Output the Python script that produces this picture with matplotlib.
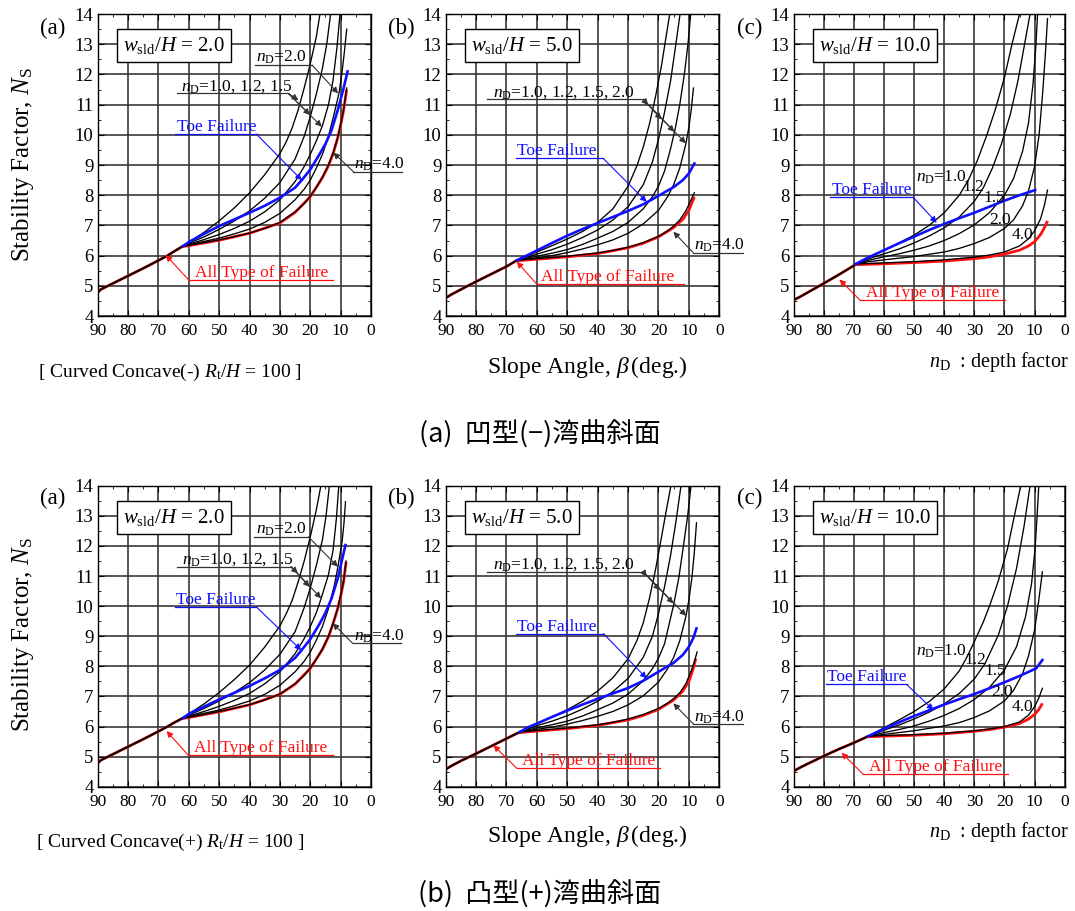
import matplotlib
matplotlib.use('Agg')
import matplotlib.pyplot as plt
from matplotlib.ticker import MultipleLocator

plt.rcParams['font.family'] = ['Liberation Serif', 'DejaVu Serif']
plt.rcParams['mathtext.fontset'] = 'custom'
plt.rcParams['mathtext.rm'] = 'Liberation Serif'
plt.rcParams['mathtext.it'] = 'Liberation Serif:italic'
plt.rcParams['mathtext.bf'] = 'Liberation Serif:bold'

# ---------------- data ----------------
W_RATIOS = ['2.0', '5.0', '10.0']
PANEL_TAGS = ['(a)', '(b)', '(c)']
ND_KEYS = ['1.0', '1.2', '1.5', '2.0', '4.0']
X_TICKS = [90, 80, 70, 60, 50, 40, 30, 20, 10, 0]
Y_TICKS = [4, 5, 6, 7, 8, 9, 10, 11, 12, 13, 14]

# Concave(-), w/H = 2.0
CC_A = {
    'common': [(90, 4.78), (89, 4.88), (87, 4.98), (85, 5.08), (80, 5.33), (75, 5.58), (70, 5.84), (67, 6.0), (65, 6.13), (62, 6.31)],
    '1.0': [(62, 6.31), (60, 6.45), (55, 6.77), (50, 7.15), (45, 7.58), (40, 8.08), (35, 8.68), (30, 9.38), (28, 9.75), (26, 10.22), (24, 10.82), (22, 11.55), (20, 12.35), (18, 13.25), (16.8, 14.0)],
    '1.2': [(62, 6.31), (60, 6.41), (55, 6.62), (50, 6.87), (45, 7.15), (40, 7.48), (35, 7.9), (30, 8.42), (25, 9.2), (22, 9.95), (20, 10.6), (18, 11.35), (16, 12.2), (14.5, 13.05), (13.3, 14.0)],
    '1.5': [(62, 6.31), (60, 6.38), (55, 6.53), (50, 6.7), (45, 6.9), (40, 7.14), (35, 7.45), (30, 7.85), (25, 8.45), (22, 8.95), (20, 9.35), (18, 9.8), (16, 10.3), (14, 11.0), (12.5, 11.8), (11.2, 12.9), (10.2, 14.0)],
    '2.0': [(62, 6.31), (60, 6.36), (55, 6.47), (50, 6.58), (45, 6.72), (40, 6.88), (35, 7.1), (30, 7.4), (25, 7.85), (22, 8.2), (20, 8.5), (18, 8.9), (16, 9.35), (14, 9.95), (12, 10.75), (10.5, 11.4), (9.5, 12.1), (8.7, 12.8), (8.0, 13.5)],
    '4.0': [(62, 6.31), (60, 6.34), (55, 6.43), (50, 6.52), (45, 6.63), (40, 6.75), (35, 6.9), (30, 7.1), (25, 7.45), (22, 7.72), (20, 7.97), (18, 8.25), (16, 8.6), (14, 9.0), (12.4, 9.42), (11, 9.9), (10, 10.35), (9, 10.85), (8.0, 11.55)],
    'toe': [(62, 6.31), (60, 6.45), (55, 6.72), (50, 6.98), (45, 7.2), (40, 7.42), (35, 7.65), (30, 7.92), (25, 8.25), (22.8, 8.5), (20, 8.85), (17, 9.35), (15, 9.7), (13, 10.15), (11, 10.8), (9, 11.55), (7.7, 12.1)],
    'all': [(62, 6.3), (60, 6.33), (50, 6.51), (40, 6.74), (30, 7.08), (25, 7.43), (20, 7.95), (16, 8.58), (14, 8.98), (12.4, 9.4), (11, 9.88), (10, 10.32), (9, 10.82), (8.0, 11.5)],
}
# Concave(-), w/H = 5.0
CC_B = {
    'common': [(90, 4.6), (88, 4.72), (85, 4.88), (80, 5.14), (75, 5.39), (70, 5.64), (66.5, 5.85)],
    '1.0': [(66.5, 5.85), (63, 6.0), (60, 6.12), (55, 6.33), (50, 6.55), (45, 6.8), (40, 7.1), (35, 7.55), (30, 8.3), (27, 9.0), (25, 9.6), (23, 10.35), (21, 11.25), (19, 12.3), (17.5, 13.25), (16.3, 14.0)],
    '1.2': [(66.5, 5.85), (60, 6.05), (55, 6.2), (50, 6.38), (45, 6.6), (40, 6.85), (35, 7.18), (30, 7.62), (25, 8.35), (22, 9.1), (20, 9.85), (18, 10.75), (16, 11.8), (14.5, 12.85), (12.9, 14.0)],
    '1.5': [(66.5, 5.85), (60, 5.98), (55, 6.08), (50, 6.2), (45, 6.37), (40, 6.58), (35, 6.8), (30, 7.1), (25, 7.55), (22, 7.95), (20, 8.3), (18, 8.8), (16, 9.55), (14.5, 10.2), (13, 11.0), (11.5, 12.0), (10.3, 13.0), (9.4, 14.0)],
    '2.0': [(66.5, 5.85), (60, 5.93), (55, 6.0), (50, 6.1), (45, 6.22), (40, 6.36), (35, 6.52), (30, 6.74), (25, 7.05), (20, 7.5), (17, 7.95), (15, 8.35), (13, 8.9), (11, 9.7), (10, 10.25), (9.2, 10.85), (8.5, 11.55)],
    '4.0': [(66.5, 5.85), (60, 5.9), (50, 5.98), (40, 6.09), (35, 6.17), (30, 6.28), (25, 6.43), (20, 6.64), (17, 6.82), (15, 6.98), (13, 7.18), (11, 7.48), (9.5, 7.8), (8.2, 8.08)],
    'toe': [(66.5, 5.85), (63, 6.02), (60, 6.17), (55, 6.42), (50, 6.66), (45, 6.88), (40, 7.08), (35, 7.28), (30, 7.48), (25, 7.7), (20, 7.98), (15, 8.27), (12, 8.5), (10, 8.72), (8.2, 9.05)],
    'all': [(66.5, 5.83), (60, 5.88), (50, 5.96), (40, 6.07), (30, 6.26), (25, 6.41), (20, 6.62), (15, 6.93), (12, 7.2), (10, 7.5), (8.2, 7.95)],
}
# Concave(-), w/H = 10.0
CC_C = {
    'common': [(90, 4.53), (88, 4.63), (85, 4.8), (80, 5.08), (75, 5.37), (70, 5.67), (69.5, 5.72)],
    '1.0': [(69.5, 5.72), (65, 5.95), (60, 6.18), (55, 6.42), (50, 6.68), (45, 7.0), (40, 7.42), (35, 8.0), (32, 8.5), (29, 9.15), (26, 9.95), (23, 10.85), (20, 11.9), (17.5, 13.0), (15.0, 14.0)],
    '1.2': [(69.5, 5.72), (65, 5.9), (60, 6.06), (55, 6.22), (50, 6.42), (45, 6.65), (40, 6.92), (35, 7.28), (30, 7.8), (27, 8.25), (24, 8.9), (21, 9.7), (18, 10.7), (15.5, 11.8), (13.5, 12.9), (11.5, 14.0)],
    '1.5': [(69.5, 5.72), (65, 5.85), (60, 5.96), (55, 6.06), (50, 6.18), (45, 6.32), (40, 6.5), (35, 6.73), (30, 7.02), (25, 7.42), (20, 8.0), (17, 8.55), (14, 9.45), (12, 10.4), (10.5, 11.7), (9.6, 12.9), (9.0, 14.0)],
    '2.0': [(69.5, 5.72), (65, 5.8), (60, 5.86), (50, 5.97), (40, 6.12), (35, 6.24), (30, 6.4), (25, 6.6), (20, 6.9), (17, 7.18), (14, 7.65), (12, 8.15), (10, 8.95), (8.5, 10.0), (7.3, 11.4), (6.4, 12.7), (5.7, 13.85)],
    '4.0': [(69.5, 5.72), (60, 5.76), (50, 5.8), (40, 5.86), (30, 5.95), (25, 6.02), (20, 6.12), (15, 6.32), (12, 6.56), (10, 6.82), (8, 7.22), (6.7, 7.68), (5.7, 8.17)],
    'toe': [(69.5, 5.72), (65, 5.95), (60, 6.18), (55, 6.41), (50, 6.63), (45, 6.85), (40, 7.05), (35, 7.24), (30, 7.42), (25, 7.62), (20, 7.82), (15, 8.0), (9.8, 8.17)],
    'all': [(69.5, 5.7), (60, 5.73), (50, 5.77), (40, 5.82), (30, 5.9), (25, 5.96), (20, 6.05), (15, 6.18), (12, 6.32), (10, 6.46), (8, 6.7), (6.6, 6.95), (5.7, 7.15)],
}
# Convex(+), w/H = 2.0
CV_A = {
    'common': [(90, 4.78), (89, 4.88), (87, 4.98), (85, 5.08), (80, 5.33), (75, 5.58), (70, 5.84), (67, 6.0), (65, 6.12), (62, 6.28)],
    '1.0': [(62, 6.28), (60, 6.42), (55, 6.75), (50, 7.13), (45, 7.56), (40, 8.04), (35, 8.64), (30, 9.34), (28, 9.73), (26, 10.18), (24, 10.8), (22, 11.5), (20, 12.3), (18, 13.2), (16.5, 14.0)],
    '1.2': [(62, 6.28), (60, 6.38), (55, 6.6), (50, 6.85), (45, 7.13), (40, 7.46), (35, 7.88), (30, 8.4), (25, 9.15), (22, 9.95), (20, 10.6), (18, 11.35), (16, 12.2), (14.8, 13.0), (13.7, 14.0)],
    '1.5': [(62, 6.28), (60, 6.35), (55, 6.5), (50, 6.67), (45, 6.87), (40, 7.1), (35, 7.42), (30, 7.82), (25, 8.42), (22, 8.92), (20, 9.32), (18, 9.78), (16.4, 10.26), (14, 11.05), (12.5, 11.85), (11.4, 12.9), (10.6, 14.0)],
    '2.0': [(62, 6.28), (60, 6.33), (55, 6.44), (50, 6.55), (45, 6.69), (40, 6.85), (35, 7.07), (30, 7.37), (25, 7.82), (22, 8.17), (20, 8.47), (18, 8.87), (16, 9.32), (14, 9.92), (12, 10.72), (10.9, 11.3), (9.5, 12.15), (8.9, 12.75), (8.4, 13.47)],
    '4.0': [(62, 6.28), (60, 6.31), (55, 6.4), (50, 6.5), (45, 6.61), (40, 6.73), (35, 6.88), (30, 7.08), (25, 7.42), (22, 7.7), (20, 7.95), (18, 8.23), (16, 8.58), (14, 9.0), (12.6, 9.4), (11, 9.92), (10, 10.35), (9, 10.85), (8.2, 11.5)],
    'toe': [(62, 6.28), (60, 6.42), (55, 6.66), (50, 6.9), (45, 7.12), (40, 7.35), (35, 7.6), (30, 7.88), (25, 8.28), (23, 8.52), (20, 8.9), (17, 9.4), (15, 9.78), (13, 10.25), (11, 10.9), (9.5, 11.55), (8.4, 12.03)],
    'all': [(62, 6.27), (60, 6.3), (50, 6.49), (40, 6.72), (30, 7.07), (25, 7.41), (20, 7.93), (16, 8.56), (14, 8.98), (12.6, 9.38), (11, 9.9), (10, 10.32), (9, 10.82), (8.2, 11.47)],
}
# Convex(+), w/H = 5.0
CV_B = {
    'common': [(90, 4.58), (88, 4.7), (85, 4.86), (80, 5.1), (75, 5.35), (70, 5.6), (65.6, 5.82)],
    '1.0': [(65.6, 5.82), (63, 5.96), (60, 6.1), (55, 6.32), (50, 6.56), (45, 6.84), (40, 7.18), (35, 7.62), (30, 8.25), (27, 8.88), (25, 9.45), (23, 10.25), (21, 11.2), (19, 12.3), (17.3, 13.25), (15.9, 14.0)],
    '1.2': [(65.6, 5.82), (60, 6.03), (55, 6.18), (50, 6.36), (45, 6.58), (40, 6.84), (35, 7.16), (30, 7.6), (25, 8.3), (22, 9.0), (20, 9.75), (18, 10.65), (16, 11.7), (14.2, 12.85), (12.6, 14.0)],
    '1.5': [(65.6, 5.82), (60, 5.96), (55, 6.06), (50, 6.18), (45, 6.35), (40, 6.56), (35, 6.78), (30, 7.08), (25, 7.52), (22, 7.92), (20, 8.27), (18, 8.75), (16.5, 9.4), (15, 10.05), (13.3, 10.95), (11.8, 12.0), (10.4, 13.0), (9.3, 14.0)],
    '2.0': [(65.6, 5.82), (60, 5.91), (55, 5.98), (50, 6.08), (45, 6.2), (40, 6.34), (35, 6.5), (30, 6.72), (25, 7.02), (20, 7.48), (17, 7.92), (15, 8.3), (13, 8.85), (11, 9.65), (10, 10.2), (9, 10.95), (8.2, 11.8), (7.5, 12.77)],
    '4.0': [(65.6, 5.82), (60, 5.87), (50, 5.95), (40, 6.06), (35, 6.14), (30, 6.25), (25, 6.4), (20, 6.6), (17, 6.78), (15, 6.93), (13, 7.12), (11, 7.42), (9.5, 7.78), (8.3, 8.12), (7.3, 8.48)],
    'toe': [(65.6, 5.82), (63, 5.97), (60, 6.1), (55, 6.32), (50, 6.53), (45, 6.73), (40, 6.92), (35, 7.1), (30, 7.28), (25, 7.52), (20, 7.82), (15, 8.12), (12, 8.38), (10, 8.65), (8.5, 8.95), (7.5, 9.26)],
    'all': [(65.6, 5.8), (60, 5.85), (50, 5.93), (40, 6.04), (30, 6.22), (25, 6.37), (20, 6.57), (15, 6.88), (12, 7.18), (10, 7.5), (8.8, 7.85), (7.7, 8.26)],
}
# Convex(+), w/H = 10.0
CV_C = {
    'common': [(90, 4.52), (88, 4.63), (85, 4.78), (80, 5.02), (75, 5.25), (70, 5.46), (65.2, 5.68)],
    '1.0': [(65.2, 5.68), (60, 5.96), (55, 6.22), (50, 6.5), (45, 6.83), (40, 7.25), (35, 7.85), (32.5, 8.3), (30, 8.82), (27, 9.48), (24.8, 10.05), (22, 10.85), (19, 11.9), (16.7, 13.0), (14.6, 14.0)],
    '1.2': [(65.2, 5.68), (60, 5.88), (55, 6.05), (50, 6.25), (45, 6.48), (40, 6.75), (35, 7.1), (30, 7.58), (26.4, 8.1), (22, 9.05), (19, 10.0), (16, 11.25), (13.5, 12.65), (11.5, 14.0)],
    '1.5': [(65.2, 5.68), (60, 5.8), (55, 5.9), (50, 6.02), (45, 6.18), (40, 6.37), (35, 6.6), (30, 6.9), (25, 7.3), (20, 7.88), (16, 8.65), (13, 9.65), (11, 10.75), (9.8, 11.95), (9.1, 13.1), (8.6, 14.0)],
    '2.0': [(65.2, 5.68), (60, 5.74), (50, 5.86), (40, 6.02), (35, 6.13), (30, 6.3), (25, 6.52), (20, 6.85), (17, 7.2), (14, 7.75), (12, 8.35), (10, 9.2), (8.6, 10.2), (7.4, 11.14)],
    '4.0': [(65.2, 5.68), (60, 5.7), (50, 5.73), (40, 5.78), (30, 5.86), (25, 5.92), (20, 6.0), (15, 6.15), (12, 6.38), (10, 6.66), (8.6, 6.95), (7.4, 7.27)],
    'toe': [(65.2, 5.68), (60, 5.92), (55, 6.14), (50, 6.35), (45, 6.54), (40, 6.73), (35, 6.91), (30, 7.08), (25, 7.27), (20, 7.47), (15, 7.68), (9.5, 7.93), (7.4, 8.21)],
    'all': [(65.2, 5.66), (60, 5.68), (50, 5.71), (40, 5.76), (30, 5.84), (25, 5.9), (20, 5.98), (15, 6.1), (12, 6.25), (10, 6.4), (8.5, 6.58), (7.4, 6.77)],
}

# annotations: (text, color, underline_x0, underline_x1, y, arrow_start_x, text_x, tips)
ND = r'$n_{\rm D}$'
ANN_CC_A = [
    (ND + '=2.0', 'k', 38.2, 19.4, 12.31, 19.4, 37.8, [(10.8, 11.37)]),
    (ND + '=1.0, 1.2, 1.5', 'k', 64.0, 27.2, 11.37, 27.2, 62.5, [(23.9, 11.15), (20.1, 10.66), (16.2, 10.27)]),
    (ND + '=4.0', 'k', 5.8, -10.2, 8.78, 5.8, 5.5, [(12.4, 9.41)]),
    ('Toe Failure', 'b', 64.5, 37.7, 10.02, 37.7, 64.0, [(22.8, 8.5)]),
    ('All Type of Failure', 'r', 60.0, 12.5, 5.19, 60.0, 58.0, [(67.6, 6.02)]),
]
ANN_CC_B = [
    (ND + '=1.0, 1.2, 1.5, 2.0', 'k', 76.3, 25.0, 11.17, 25.0, 74.5, [(23.4, 10.99), (19.0, 10.51), (14.8, 10.1), (11.0, 9.72)]),
    ('Toe Failure', 'b', 66.9, 38.2, 9.22, 38.2, 66.4, [(23.9, 7.78)]),
    ('All Type of Failure', 'r', 60.1, 11.6, 5.06, 60.1, 58.5, [(66.6, 5.8)]),
    (ND + '=4.0', 'k', 8.6, -7.9, 6.1, 8.6, 8.3, [(15.1, 6.79)]),
]
ANN_CC_C = [
    ('Toe Failure', 'b', 77.9, 50.3, 7.93, 50.3, 77.4, [(42.5, 7.09)]),
    ('All Type of Failure', 'r', 68.0, 19.8, 4.53, 68.0, 66.0, [(74.8, 5.21)]),
]
ANN_CV_A = [
    (ND + '=2.0', 'k', 38.5, 20.6, 12.3, 20.6, 38.0, [(10.9, 11.31)]),
    (ND + '=1.0, 1.2, 1.5', 'k', 63.8, 26.3, 11.31, 26.3, 62.3, [(24.1, 11.09), (20.2, 10.64), (16.4, 10.26)]),
    ('Toe Failure', 'b', 64.6, 37.8, 9.98, 37.8, 64.1, [(23.0, 8.54)]),
    ('All Type of Failure', 'r', 60.2, 12.6, 5.05, 60.2, 58.2, [(67.3, 5.85)]),
    (ND + '=4.0', 'k', 6.0, -10.0, 8.76, 6.0, 5.7, [(12.6, 9.43)]),
]
ANN_CV_B = [
    (ND + '=1.0, 1.2, 1.5, 2.0', 'k', 76.3, 25.0, 11.14, 25.0, 74.5, [(23.9, 10.98), (19.5, 10.53), (15.1, 10.09), (10.9, 9.68)]),
    ('Toe Failure', 'b', 66.9, 38.1, 9.09, 38.1, 66.4, [(23.9, 7.6)]),
    ('All Type of Failure', 'r', 66.6, 19.5, 4.61, 66.6, 64.8, [(74.3, 5.38)]),
    (ND + '=4.0', 'k', 8.5, -7.9, 6.08, 8.5, 8.2, [(15.1, 6.77)]),
]
ANN_CV_C = [
    ('Toe Failure', 'b', 79.3, 52.5, 7.4, 52.5, 78.8, [(43.6, 6.55)]),
    ('All Type of Failure', 'r', 66.9, 18.7, 4.41, 66.9, 64.9, [(74.1, 5.13)]),
]
# direct curve labels in (c) panels: (text, x, y)
LBL_CC_C = [(ND + '=1.0', 40.8, 8.61), ('1.2', 30.4, 8.28), ('1.5', 23.5, 7.9), ('2.0', 21.4, 7.18), ('4.0', 14.1, 6.68)]
LBL_CV_C = [(ND + '=1.0', 40.8, 8.49), ('1.2', 29.8, 8.21), ('1.5', 23.1, 7.85), ('2.0', 20.9, 7.16), ('4.0', 13.9, 6.64)]

ROWS = [
    ([CC_A, CC_B, CC_C], [ANN_CC_A, ANN_CC_B, ANN_CC_C], LBL_CC_C),
    ([CV_A, CV_B, CV_C], [ANN_CV_A, ANN_CV_B, ANN_CV_C], LBL_CV_C),
]

# ---------------- layout ----------------
fig = plt.figure(figsize=(10.75, 9.11), dpi=100)
LEFTS = [0.0909, 0.4146, 0.7383]
WIDTHS = [0.2542, 0.2545, 0.2521]
BOTTOMS = [0.6531, 0.1364]
HEIGHTS = [0.3315, 0.3304]

COLORS = {'k': 'black', 'b': '#1010ff', 'r': '#ff1010'}


def xy(pts):
    return [p[0] for p in pts], [p[1] for p in pts]


def draw_panel(ax, d, anns, lbls, w):
    ax.set_xlim(90, 0)
    ax.set_ylim(4, 14)
    ax.set_xticks(X_TICKS)
    ax.set_yticks(Y_TICKS)
    ax.xaxis.set_minor_locator(MultipleLocator(5))
    ax.yaxis.set_minor_locator(MultipleLocator(0.5))
    ax.tick_params(which='both', direction='in', top=True, right=True)
    ax.tick_params(which='major', length=4, width=0.8)
    ax.tick_params(which='minor', length=2.5, width=0.6)
    ax.tick_params(axis='y', labelsize=13.5, pad=3)
    ax.tick_params(axis='x', labelsize=12.5, pad=5)
    ax.grid(True, which='major', color='#383838', lw=1.2)
    ax.set_axisbelow(True)
    for s in ax.spines.values():
        s.set_linewidth(1.0)

    cx, cy = xy(d['common'])
    ax_, ay_ = xy(d['all'])
    ax.plot(cx + ax_, cy + ay_, color=COLORS['r'], lw=2.0, zorder=3, solid_capstyle='butt')
    ax.plot(cx, cy, color='black', lw=1.4, zorder=4)
    for k in ND_KEYS:
        bx, by = xy(d[k])
        ax.plot(bx, by, color='black', lw=0.95, zorder=4)
    tx, ty = xy(d['toe'])
    ax.plot(tx, ty, color=COLORS['b'], lw=1.9, zorder=5)

    for (txt, col, x0, x1, y, xs, xt, tips) in anns:
        c = COLORS[col]
        lc = '0.2' if col == 'k' else c
        ax.plot([x0, x1], [y, y], color=lc, lw=0.9, clip_on=False, zorder=6)
        ax.text(xt, y + 0.1, txt, color=c, fontsize=12.5, ha='left', va='baseline',
                clip_on=False, zorder=7)
        for tip in tips:
            ax.annotate('', xy=tip, xytext=(xs, y), annotation_clip=False,
                        arrowprops=dict(arrowstyle='-|>', color=lc, lw=0.8,
                                        mutation_scale=9, shrinkA=0, shrinkB=0),
                        zorder=6)
    for (txt, x, y) in lbls:
        ax.text(x, y, txt, fontsize=12.5, ha='center', va='center', zorder=7)

    ax.text(0.093, 0.895, r'$w_{\rm sld}/H$ = ' + w, transform=ax.transAxes,
            fontsize=15, ha='left', va='center', zorder=8,
            bbox=dict(boxstyle='square,pad=0.3', fc='white', ec='black', lw=1.0))


for r, (datas, annss, lbl) in enumerate(ROWS):
    for c in range(3):
        ax = fig.add_axes([LEFTS[c], BOTTOMS[r], WIDTHS[c], HEIGHTS[r]])
        draw_panel(ax, datas[c], annss[c], lbl if c == 2 else [], W_RATIOS[c])

# panel tags
TAG_X = [53 / 1075, 401 / 1075, 750 / 1075]
TAG_Y = [1 - 28 / 911, 1 - 498 / 911]
for r in range(2):
    for c in range(3):
        fig.text(TAG_X[c], TAG_Y[r], PANEL_TAGS[c], fontsize=16.5, ha='center', va='center')

# axis labels and side notes
for r, (ylab_y, xl_y, note_y, nd_y, cap_y, note, cap) in enumerate([
        (165, 367, 372, 362, 435, r'[ Curved Concave(-) $R_{\rm t}/H$ = 100 ]', '(a)  凹型(−)湾曲斜面'),
        (635, 836, 842, 832, 895, r'[ Curved Concave(+) $R_{\rm t}/H$ = 100 ]', '(b)  凸型(+)湾曲斜面')]):
    fig.text(23 / 1075, 1 - ylab_y / 911, r'Stability Factor, $N_{\rm S}$', rotation=90,
             fontsize=18, ha='center', va='center')
    fig.text(587 / 1075, 1 - xl_y / 911, r'Slope Angle, $\beta\,$(deg.)', fontsize=17,
             ha='center', va='center')
    fig.text(170 / 1075, 1 - note_y / 911, note, fontsize=14, ha='center', va='center')
    fig.text(999 / 1075, 1 - nd_y / 911, r'$n_{\rm D}$  : depth factor', fontsize=14.5,
             ha='center', va='center')
    fig.text(540 / 1075, 1 - cap_y / 911, cap, fontsize=19.5, ha='center', va='center',
             family=['Noto Sans CJK JP', 'DejaVu Sans'])

fig.savefig('out.png', dpi=100)
